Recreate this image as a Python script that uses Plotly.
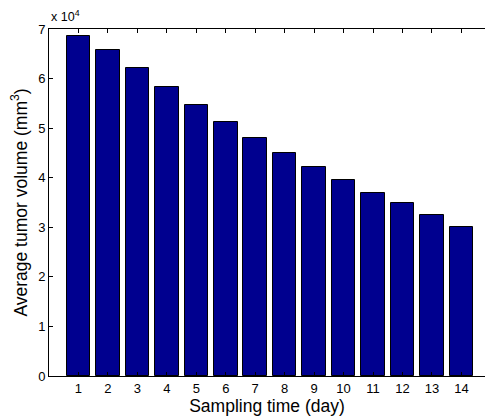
import plotly.graph_objects as go

days = list(range(1, 15))
tick_labels = [str(d) for d in days]
volumes = [68550, 65730, 62100, 58270, 54640, 51150, 48000,
           44960, 42080, 39520, 37000, 34820, 32540, 30120]
y_tick_vals = [0, 10000, 20000, 30000, 40000, 50000, 60000, 70000]
y_tick_text = ["0", "1", "2", "3", "4", "5", "6", "7"]

font_family = "Liberation Sans, Arial, sans-serif"

fig = go.Figure()
fig.add_trace(go.Bar(
    x=days, y=volumes, width=0.8,
    marker=dict(color="#00008F", line=dict(color="black", width=1)),
))

fig.update_layout(
    width=485, height=418,
    margin=dict(l=49, r=0, t=29, b=42),
    paper_bgcolor="white", plot_bgcolor="white",
    showlegend=False,
    font=dict(family=font_family, size=13, color="black"),
    bargap=0,
)
fig.update_xaxes(
    range=[0, 14.8], tickvals=days, ticktext=tick_labels,
    ticks="inside", ticklen=4, tickcolor="black",
    showline=True, linecolor="black", linewidth=1, mirror="ticks",
    showgrid=False, zeroline=False,
    title=dict(text="Sampling time (day)", font=dict(size=17.5), standoff=0),
    tickfont=dict(size=13),
)
fig.update_yaxes(
    range=[0, 70000], tickvals=y_tick_vals, ticktext=y_tick_text,
    ticks="inside", ticklen=4, tickcolor="black",
    showline=True, linecolor="black", linewidth=1, mirror=False,
    showgrid=False, zeroline=False,
    title=dict(text="Average tumor volume (mm<sup>3</sup>)", font=dict(size=17.5), standoff=6),
    tickfont=dict(size=13),
)
fig.add_annotation(
    xref="paper", yref="paper", x=0, y=1, xanchor="left", yanchor="bottom",
    text="x 10<sup>4</sup>", showarrow=False, font=dict(size=12.5), yshift=3,
    xshift=0,
)
fig.write_html("out.html")
